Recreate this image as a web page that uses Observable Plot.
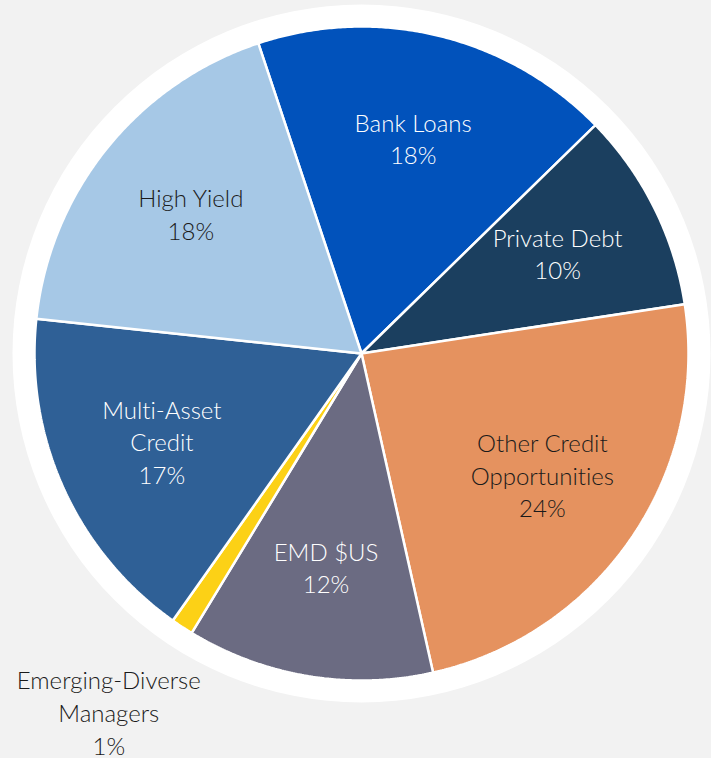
<!DOCTYPE html>
<html><head><meta charset="utf-8">
<script src="https://cdn.jsdelivr.net/npm/d3@7"></script>
<script src="https://cdn.jsdelivr.net/npm/@observablehq/plot@0.6"></script>
<style>
html,body{margin:0;padding:0;background:#f2f2f2;}
#chart svg{display:block;font-variant-ligatures:none;}
</style>
</head><body><div id="chart"></div>
<script>
// Data (slice shares, clockwise from the top-left boundary)
const categories = ["Bank Loans", "Private Debt", "Other Credit\nOpportunities", "EMD $US", "Emerging-Diverse\nManagers", "Multi-Asset\nCredit", "High Yield"];
const shares = [17.8, 9.9, 23.9, 12.2, 1.1, 16.9, 18.2];
const colors = ["#0152bb", "#1b3f5f", "#e5925f", "#6b6b82", "#fcd116", "#2f6096", "#a6c8e6"];

const W = 711, H = 758;
const cx = 361, cy = 353;      // pie centre in pixels
const R = 327;                 // pie radius
const ringR = 349;             // white ring radius
const startAngle = -18.4 * Math.PI / 180;

const arcs = d3.pie().sort(null).startAngle(startAngle).endAngle(startAngle + 2 * Math.PI)(shares);

// polygon vertices of each slice (in pixel-like units relative to the centre; y down)
const slicePts = [];
arcs.forEach((a, i) => {
  const cat = categories[i];
  slicePts.push({cat, x: 0, y: 0});
  const n = Math.max(2, Math.ceil((a.endAngle - a.startAngle) / (0.4 * Math.PI / 180)));
  for (let k = 0; k <= n; k++) {
    const t = a.startAngle + (a.endAngle - a.startAngle) * k / n;
    slicePts.push({cat, x: R * Math.sin(t), y: -R * Math.cos(t)});
  }
});

const labels = arcs.map((a, i) => {
  const mid = (a.startAngle + a.endAngle) / 2;
  const outside = shares[i] < 5;
  const r = outside ? R * 1.32 : R * 0.67;
  const dark = outside || d3.lab(colors[i]).l > 60;
  return {
    x: r * Math.sin(mid) - (outside ? 16 : 0), y: -r * Math.cos(mid),
    text: categories[i] + "\n" + Math.round(shares[i]) + "%",
    dark
  };
});

const font = {fontSize: 24, fontFamily: "Lato, 'Open Sans', sans-serif", fontWeight: 300, lineHeight: 1.36, textAnchor: "middle", lineAnchor: "middle", dy: -3};

const chart = Plot.plot({
  width: W, height: H,
  margin: 0,
  style: {background: "#f2f2f2", overflow: "visible"},
  x: {domain: [-cx, W - cx], range: [0, W], axis: null},
  y: {domain: [-cy, H - cy], range: [0, H], axis: null},
  color: {domain: categories, range: colors},
  marks: [
    Plot.dot([{x: 0, y: 0}], {x: "x", y: "y", r: ringR, fill: "white", stroke: "none"}),
    Plot.line(slicePts, {x: "x", y: "y", z: "cat", fill: "cat", stroke: "white", strokeWidth: 2.5, curve: "linear-closed", strokeLinejoin: "miter"}),
    Plot.text(labels, {filter: d => d.dark, x: "x", y: "y", text: "text", fill: "#1a1a1a", ...font}),
    Plot.text(labels, {filter: d => !d.dark, x: "x", y: "y", text: "text", fill: "white", ...font})
  ]
});
document.getElementById("chart").appendChild(chart);
</script>
</body></html>
